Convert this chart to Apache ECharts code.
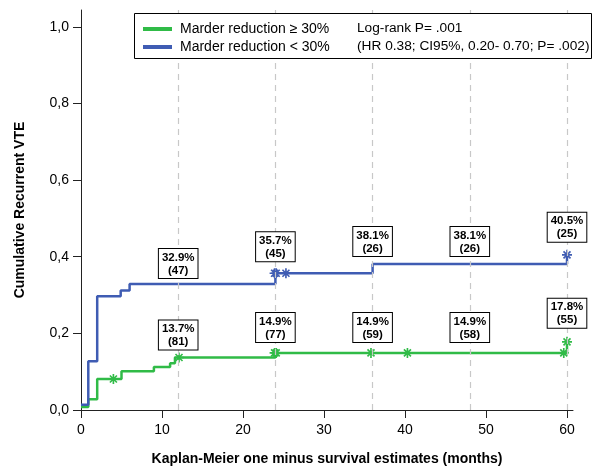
<!DOCTYPE html>
<html>
<head>
<meta charset="utf-8">
<script src="https://cdn.jsdelivr.net/npm/echarts@6/dist/echarts.min.js"></script>
<style>
  html, body { margin: 0; padding: 0; background: #fff; }
  #main { width: 599px; height: 471px; }
</style>
</head>
<body>
<div id="main"></div>
<script>
// step points of each Kaplan-Meier curve [month, cumulative incidence]
var greenSteps = [[0, 0.008], [0.9, 0.028], [2.0, 0.081], [5.0, 0.101], [9.0, 0.112], [11.0, 0.122], [11.6, 0.137], [24, 0.149], [60, 0.178]];
var blueSteps = [[0, 0.014], [0.9, 0.127], [2.0, 0.297], [4.9, 0.312], [6.0, 0.329], [24, 0.357], [36, 0.381], [60, 0.405]];

// censored marks
var greenCensor = [[4, 0.081], [12.1, 0.137], [23.9, 0.149], [24.1, 0.149], [35.8, 0.149], [40.3, 0.149], [59.6, 0.149], [60, 0.178]];
var blueCensor = [[23.9, 0.357], [24.1, 0.357], [25.3, 0.357], [60, 0.405]];

// boxed estimates at landmark months
var landmarks = [12, 24, 36, 48, 60];
var greenPct = [13.7, 14.9, 14.9, 14.9, 17.8];
var greenRisk = [81, 77, 59, 58, 55];
var bluePct = [32.9, 35.7, 38.1, 38.1, 40.5];
var blueRisk = [47, 45, 26, 26, 25];

var GREEN = '#30bb47';
var BLUE = '#3f5cb3';
var FONT = '"Liberation Sans", Arial, Helvetica, sans-serif';
var STAR = 'path://M-1,-6L1,-6L1,6L-1,6Z M-6,-1L6,-1L6,1L-6,1Z M-3.5,-4.9L4.9,3.5L3.5,4.9L-4.9,-3.5Z M3.5,-4.9L4.9,-3.5L-3.5,4.9L-4.9,3.5Z';

var greenGap = [8, 11, 11, 11, 14];
var blueGap = [6, 12, 8, 8, 13];

function boxes(pct, risk, gap) {
  return landmarks.map(function (m, i) {
    return {
      value: [m, pct[i] / 100],
      label: {
        distance: gap[i],
        formatter: pct[i].toFixed(1) + '%\n(' + risk[i] + ')'
      }
    };
  });
}

var boxLabel = {
  show: true,
  position: 'top',
  fontFamily: FONT,
  fontSize: 11.5,
  fontWeight: 'bold',
  color: '#000',
  opacity: 1,
  lineHeight: 13,
  align: 'center',
  backgroundColor: '#fff',
  borderColor: '#000',
  borderWidth: 1,
  padding: [2, 3, 1, 3]
};

var tickY = [0, 0.2, 0.4, 0.6, 0.8, 1.0];
var tickX = [0, 10, 20, 30, 40, 50, 60];

var myChart = echarts.init(document.getElementById('main'));
option = {
  animation: false,
  grid: { left: 81, right: 26, top: 10, bottom: 57 },
  xAxis: {
    type: 'value',
    min: 0,
    max: 60.74,
    name: 'Kaplan-Meier one minus survival estimates (months)',
    nameLocation: 'middle',
    nameGap: 42,
    nameTextStyle: { fontFamily: FONT, fontSize: 14, fontWeight: 'bold', color: '#000' },
    axisLine: { lineStyle: { color: '#222', width: 1 } },
    axisTick: { customValues: tickX, length: 8, lineStyle: { color: '#222' } },
    axisLabel: { customValues: tickX, fontFamily: FONT, fontSize: 14, color: '#000', margin: 13 },
    splitLine: { show: false }
  },
  yAxis: {
    type: 'value',
    min: 0,
    max: 1.044,
    name: 'Cumulative Recurrent VTE',
    nameLocation: 'middle',
    nameGap: 54,
    nameTextStyle: { fontFamily: FONT, fontSize: 14, fontWeight: 'bold', color: '#000' },
    axisLine: { show: true, lineStyle: { color: '#222', width: 1 } },
    axisTick: { show: true, customValues: tickY, length: 8, lineStyle: { color: '#222' } },
    axisLabel: {
      customValues: tickY, fontFamily: FONT, fontSize: 14, color: '#000', margin: 12,
      formatter: function (v) { return v.toFixed(1).replace('.', ','); }
    },
    splitLine: { show: false }
  },
  legend: {
    left: 138,
    top: 17,
    orient: 'vertical',
    itemWidth: 29,
    itemHeight: 4,
    itemGap: 4,
    icon: 'rect',
    z: 20,
    data: ['Marder reduction \u2265 30%', 'Marder reduction < 30%'],
    textStyle: { fontFamily: FONT, fontSize: 14, color: '#000', padding: [0, 0, 0, 3] }
  },
  graphic: [
    {
      type: 'rect', left: 134, top: 13, z: 10,
      shape: { width: 457, height: 45 },
      style: { fill: '#fff', stroke: '#000', lineWidth: 1 }
    },
    {
      type: 'text', left: 357, top: 21, z: 11,
      style: { text: 'Log-rank P= .001', font: '13.7px ' + FONT, fill: '#000' }
    },
    {
      type: 'text', left: 357, top: 39, z: 11,
      style: { text: '(HR 0.38; CI95%, 0.20- 0.70; P= .002)', font: '13.7px ' + FONT, fill: '#000' }
    }
  ],
  series: [
    {
      name: 'Marder reduction \u2265 30%',
      type: 'line',
      step: 'end',
      data: greenSteps,
      showSymbol: false,
      lineStyle: { color: GREEN, width: 2.5 },
      itemStyle: { color: GREEN },
      z: 3,
      markLine: {
        silent: true,
        symbol: 'none',
        label: { show: false },
        lineStyle: { color: '#c8c8c8', type: [6, 5], width: 1.2 },
        data: landmarks.map(function (m) { return { xAxis: m }; })
      }
    },
    {
      name: 'Marder reduction < 30%',
      type: 'line',
      step: 'end',
      data: blueSteps,
      showSymbol: false,
      lineStyle: { color: BLUE, width: 2.5 },
      itemStyle: { color: BLUE },
      z: 3
    },
    {
      type: 'scatter', data: greenCensor, symbol: STAR, symbolSize: 10,
      itemStyle: { color: GREEN, opacity: 1 }, z: 4, silent: true
    },
    {
      type: 'scatter', data: blueCensor, symbol: STAR, symbolSize: 10,
      itemStyle: { color: BLUE, opacity: 1 }, z: 4, silent: true
    },
    {
      type: 'scatter', data: boxes(greenPct, greenRisk, greenGap), symbolSize: 0,
      itemStyle: { opacity: 1 }, label: boxLabel, z: 5, silent: true
    },
    {
      type: 'scatter', data: boxes(bluePct, blueRisk, blueGap), symbolSize: 0,
      itemStyle: { opacity: 1 }, label: boxLabel, z: 5, silent: true
    }
  ]
};
myChart.setOption(option);
</script>
</body>
</html>
